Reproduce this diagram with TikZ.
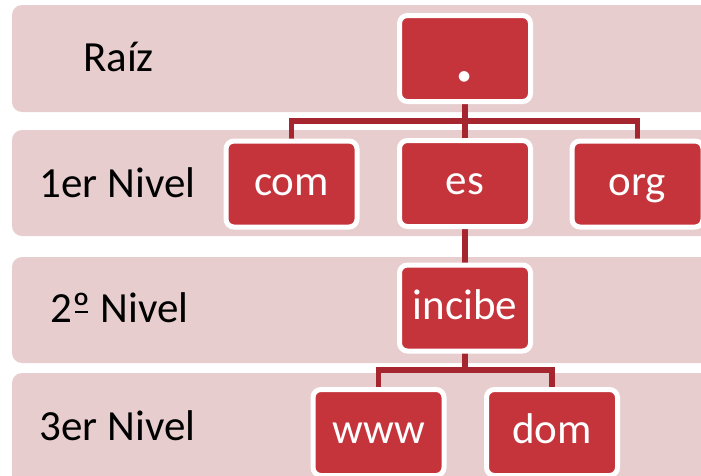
\documentclass[tikz,border=0pt]{standalone}
\usepackage{fontspec}
\setmainfont{Carlito}
\definecolor{bandc}{RGB}{232,205,207}
\definecolor{boxc}{RGB}{197,51,59}
\definecolor{linec}{RGB}{165,38,46}
\newcommand{\ordmasc}{\ooalign{º\cr\hidewidth\rule[0.2em]{0.3em}{0.055em}\hidewidth}}
\pgfdeclarelayer{back}
\pgfdeclarelayer{mid}
\pgfsetlayers{back,mid,main}
\tikzset{
  band/.style={fill=bandc, draw=none, rounded corners=10pt},
  lvl/.style={anchor=base, inner sep=0pt, font=\fontsize{43}{50}\selectfont, text=black},
  dnode/.style={fill=boxc, draw=white, line width=5pt, rounded corners=8pt,
    minimum width=131pt, minimum height=86pt, inner sep=0pt, text=white,
    font=\fontsize{43}{50}\selectfont, text height=22pt, text depth=0pt},
  conn/.style={draw=linec, line width=5.5pt}
}
\begin{document}
\begin{tikzpicture}[x=1pt,y=1pt]
\useasboundingbox (0,-475) rectangle (701,0);
\clip (0,-475) rectangle (701,0);
\begin{pgfonlayer}{back}
\path[band] (12,-5) rectangle (740,-112);
\path[band] (12,-130) rectangle (740,-236);
\path[band] (12,-257) rectangle (740,-363);
\path[band] (12,-373) rectangle (740,-490);
\end{pgfonlayer}
\node[lvl] (l0) at (118.5,-71) {Raíz};
\node[lvl] (l1) at (117.5,-197) {1er Nivel};
\node[lvl] (l2) at (119.5,-322) {2\ordmasc{} Nivel};
\node[lvl] (l3) at (117.5,-440) {3er Nivel};
\node[dnode, font=\fontsize{88}{90}\selectfont, text height=45pt] (root) at (465,-58.5) {.};
\node[dnode] (com) at (291.5,-184) {com};
\node[dnode] (es) at (465,-183.5) {es};
\node[dnode] (org) at (637.5,-184) {org};
\node[dnode] (incibe) at (465,-308) {incibe};
\node[dnode] (www) at (378.5,-432.5) {www};
\node[dnode] (dom) at (552,-432.5) {dom};
\coordinate (j1) at (465,-121);
\coordinate (j2) at (465,-370);
\begin{pgfonlayer}{mid}
\draw[conn] (root.center) -- (j1);
\draw[conn] (j1) -| (com.center);
\draw[conn] (j1) -| (org.center);
\draw[conn] (j1) -- (es.center);
\draw[conn] (es.center) -- (incibe.center);
\draw[conn] (incibe.center) -- (j2);
\draw[conn] (j2) -| (www.center);
\draw[conn] (j2) -| (dom.center);
\end{pgfonlayer}
\end{tikzpicture}
\end{document}
